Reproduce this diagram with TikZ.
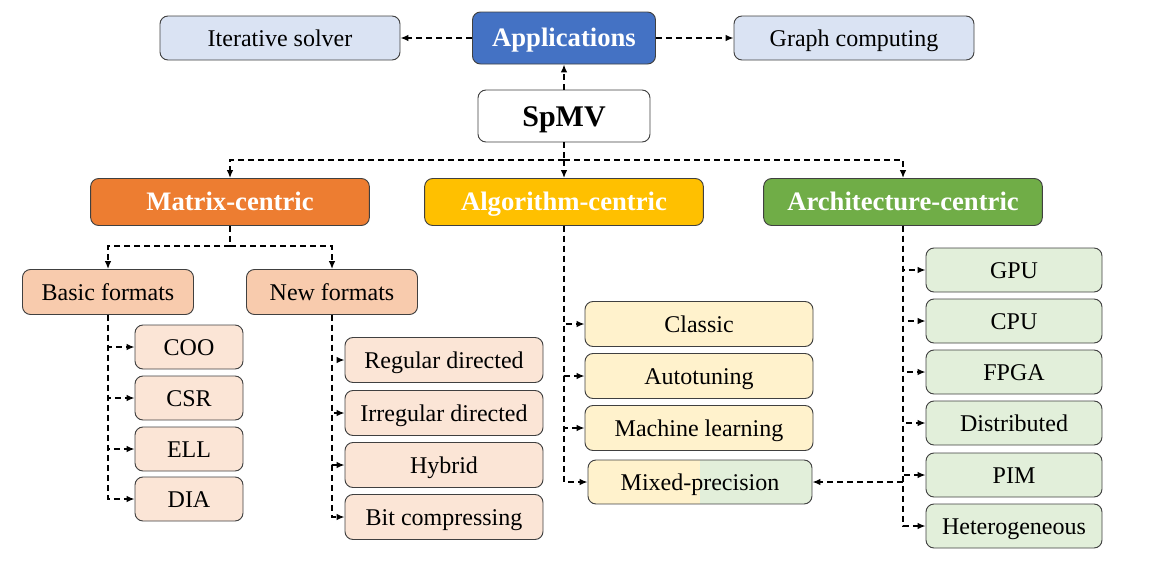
\documentclass[tikz,border=0pt]{standalone}
\usepackage{fontspec}
\setmainfont{Liberation Serif}
\usetikzlibrary{arrows.meta}

\begin{document}
\begin{tikzpicture}[x=0.75pt,y=-0.75pt,
  box/.style={draw=black!75,line width=0.7pt,rounded corners=6pt,inner sep=0pt,
    text height=12pt,text depth=0pt,font=\fontsize{18}{20}\selectfont},
  head/.style={box,text=white,font=\fontsize{20}{22}\selectfont\bfseries,text height=13.3pt,
    minimum width=209pt,minimum height=35.25pt},
  appbox/.style={box,fill=appfill,minimum width=180pt,minimum height=33pt},
  fmtbox/.style={box,fill=matfill,minimum width=128.25pt,minimum height=33.75pt},
  basicbox/.style={box,fill=matlight,minimum width=81pt,minimum height=33pt},
  newbox/.style={box,fill=matlight,minimum width=148.5pt,minimum height=33.75pt},
  algbox/.style={box,fill=alglight,minimum width=171pt,minimum height=33.75pt},
  archbox/.style={box,fill=archlight,minimum width=132pt,minimum height=33pt},
  dline/.style={line width=1.1pt,dash pattern=on 4.5pt off 3pt},
  conn/.style={dline,-{Latex[length=6pt,width=5pt]}}]
\definecolor{appblue}{RGB}{68,114,196}
\definecolor{appfill}{RGB}{218,227,243}
\definecolor{matorange}{RGB}{237,125,49}
\definecolor{matfill}{RGB}{248,203,173}
\definecolor{matlight}{RGB}{251,229,214}
\definecolor{algyellow}{RGB}{255,192,0}
\definecolor{alglight}{RGB}{255,242,204}
\definecolor{archgreen}{RGB}{112,173,71}
\definecolor{archlight}{RGB}{226,239,218}

\useasboundingbox (0,0) rectangle (1161,564);

\node[appbox] (iter) at (280,38) {Iterative solver};
\node[box,fill=appblue,text=white,font=\fontsize{20}{22}\selectfont\bfseries,text height=13.3pt,
  minimum width=137.25pt,minimum height=39pt] (app) at (564,38) {Applications};
\node[appbox] (graph) at (854,38) {Graph computing};
\node[box,fill=white,font=\fontsize{22.5}{24}\selectfont\bfseries,text height=15pt,
  minimum width=129pt,minimum height=39pt] (spmv) at (564,116) {SpMV};

\node[head,fill=matorange] (mat) at (230,202) {Matrix-centric};
\node[head,fill=algyellow] (alg) at (564,202) {Algorithm-centric};
\node[head,fill=archgreen] (arch) at (903,202) {Architecture-centric};

\node[fmtbox] (basic) at (108,292) {Basic formats};
\node[fmtbox] (new) at (332,292) {New formats};

\node[basicbox] (coo) at (189,347) {COO};
\node[basicbox] (csr) at (189,398) {CSR};
\node[basicbox] (ell) at (189,449) {ELL};
\node[basicbox] (dia) at (189,499) {DIA};

\node[newbox] (reg) at (444,360) {Regular directed};
\node[newbox] (irr) at (444,413) {Irregular directed};
\node[newbox] (hyb) at (444,465) {Hybrid};
\node[newbox] (bit) at (444,517) {Bit compressing};

\node[algbox] (classic) at (699,324) {Classic};
\node[algbox] (auto) at (699,376) {Autotuning};
\node[algbox] (ml) at (699,428) {Machine learning};
\node[box,minimum width=168pt,minimum height=33pt,
  path picture={
    \fill[alglight,sharp corners] (path picture bounding box.south west) rectangle (path picture bounding box.north);
    \fill[archlight,sharp corners] (path picture bounding box.south) rectangle (path picture bounding box.north east);
  }] (mixed) at (700,482) {Mixed-precision};

\node[archbox] (gpu) at (1014,270) {GPU};
\node[archbox] (cpu) at (1014,321) {CPU};
\node[archbox] (fpga) at (1014,372) {FPGA};
\node[archbox] (dist) at (1014,423) {Distributed};
\node[archbox] (pim) at (1014,475) {PIM};
\node[archbox] (het) at (1014,526) {Heterogeneous};

\coordinate (j1) at (564,160);
\coordinate (j2) at (230,246);

\draw[conn] (app.west) -- (iter.east);
\draw[conn] (app.east) -- (graph.west);
\draw[conn] (spmv.north) -- (app.south);

\draw[dline] (spmv.south) -- (j1);
\draw[conn] (j1) -| (mat.north);
\draw[conn] (j1) -- (alg.north);
\draw[conn] (j1) -| (arch.north);

\draw[dline] (mat.south) -- (j2);
\draw[conn] (j2) -| (basic.north);
\draw[conn] (j2) -| (new.north);

\foreach \b in {coo,csr,ell,dia}
  \draw[conn] (basic.south) |- (\b.west);
\foreach \b in {reg,irr,hyb,bit}
  \draw[conn] (new.south) |- (\b.west);
\foreach \b in {classic,auto,ml,mixed}
  \draw[conn] (alg.south) |- (\b.west);
\foreach \b in {gpu,cpu,fpga,dist,pim,het}
  \draw[conn] (arch.south) |- (\b.west);

\draw[conn] (arch.south |- mixed.east) -- (mixed.east);
\end{tikzpicture}
\end{document}
